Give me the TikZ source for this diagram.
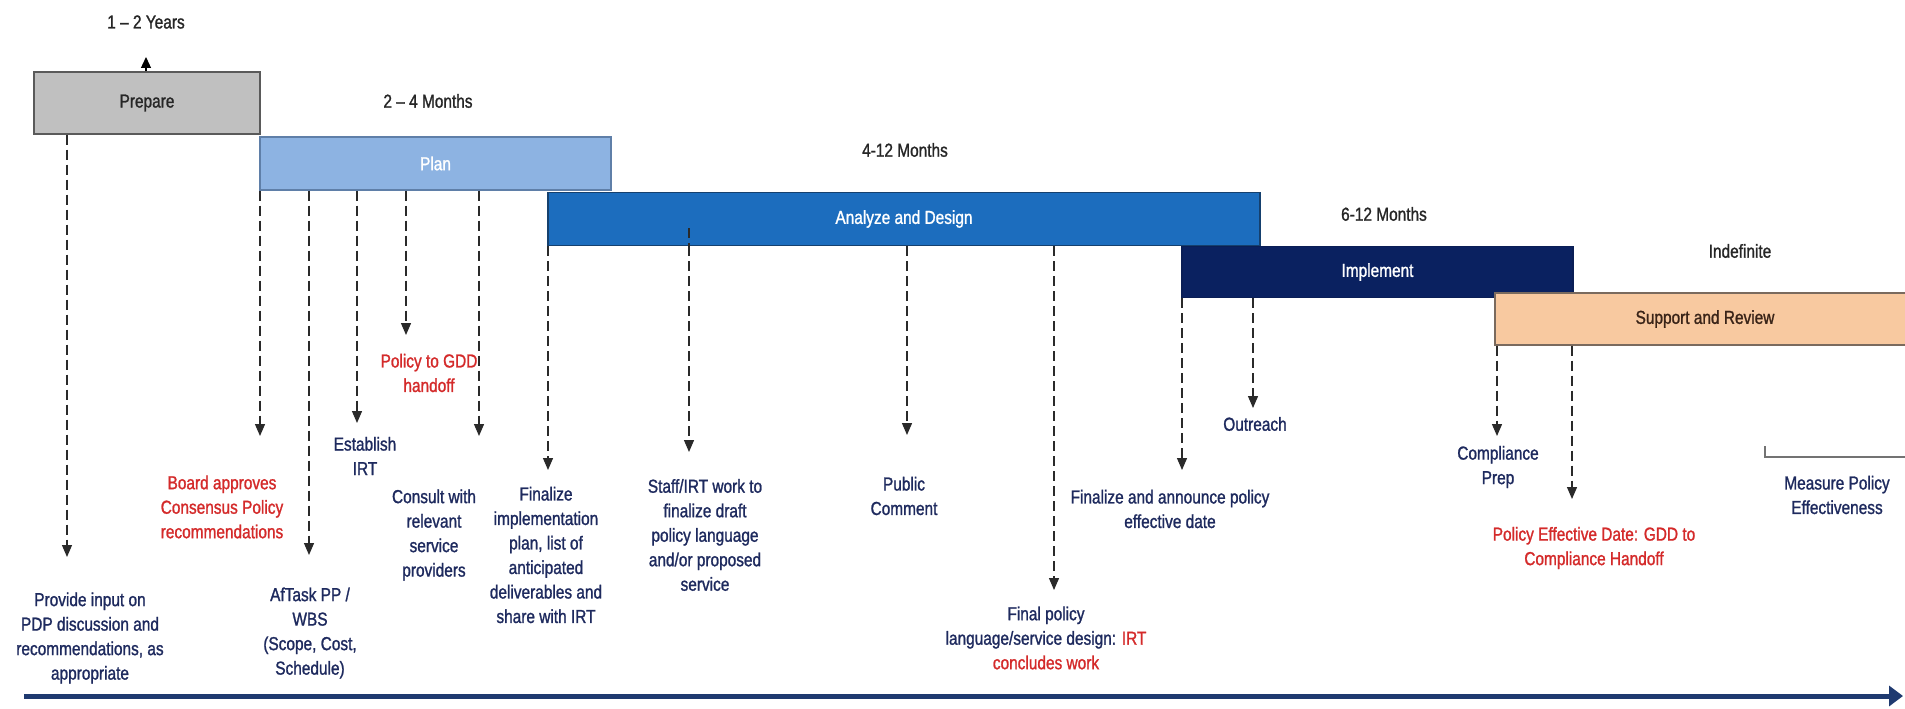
\documentclass[tikz,border=0pt]{standalone}
\usepackage{fontspec}
\setmainfont[FakeStretch=0.82,FakeBold=1.2]{Liberation Sans}
\usetikzlibrary{arrows.meta}
\definecolor{prepfill}{HTML}{C0C0C0}
\definecolor{prepdraw}{HTML}{5A5A5A}
\definecolor{planfill}{HTML}{8DB3E2}
\definecolor{plandraw}{HTML}{5F7FA8}
\definecolor{anlfill}{HTML}{1C6DBE}
\definecolor{anldraw}{HTML}{15406E}
\definecolor{implfill}{HTML}{0A2160}
\definecolor{implfill2}{HTML}{0A1E55}
\definecolor{supfill}{HTML}{F8C9A0}
\definecolor{supdraw}{HTML}{7A6A5E}
\definecolor{suptext}{HTML}{3A2418}
\definecolor{labnavy}{HTML}{1E2A5E}
\definecolor{labred}{HTML}{D42A2A}
\definecolor{axisnavy}{HTML}{1F3A70}
\definecolor{dashcol}{HTML}{2A2A2A}
\tikzset{
  phase/.style={draw, line width=1.4pt, inner sep=0pt, font=\fontsize{18.8}{22}\selectfont},
  dur/.style={font=\fontsize{18.8}{22}\selectfont, text=black!85},
  lab/.style={font=\fontsize{18.8}{24.5}\selectfont, align=center, text=labnavy, inner sep=1pt},
  redlab/.style={lab, text=labred},
  dasharrow/.style={draw=dashcol, line width=1.3pt, dash pattern=on 10pt off 5pt,
    -{Triangle[width=10pt,length=12pt]}},
  dashline/.style={draw=dashcol, line width=1.3pt, dash pattern=on 10pt off 5pt},
}
\begin{document}
\begin{tikzpicture}[x=1pt,y=-1pt]
\useasboundingbox[fill=white] (0,0) rectangle (1905,709);

% phase boxes
\node[phase, fill=prepfill, draw=prepdraw, minimum width=226pt, minimum height=62pt, text=black!85] (prep) at (147,103) {Prepare};
\node[phase, fill=planfill, draw=plandraw, minimum width=351pt, minimum height=53pt, text=white] (plan) at (435.5,163.5) {Plan};
\node[phase, fill=anlfill, draw=anldraw, minimum width=712pt, minimum height=53pt, text=white] (anl) at (904,219) {Analyze and Design};
\node[phase, fill=implfill, draw=implfill2, minimum width=391pt, minimum height=51pt, text=white] (impl) at (1377.5,272) {Implement};
\node[phase, fill=supfill, draw=supdraw, minimum width=420pt, minimum height=52pt, text=suptext] (sup) at (1705,319) {Support and Review};

% durations
\node[dur] (d1) at (146,22) {1 -- 2 Years};
\node[dur] (d2) at (428,101) {2 -- 4 Months};
\node[dur] (d3) at (905,150) {4-12 Months};
\node[dur] (d4) at (1384,214) {6-12 Months};
\node[dur] (d5) at (1740,251) {Indefinite};

\coordinate (up) at (146,57);
\draw[draw=black, line width=1.3pt, -{Triangle[width=10pt,length=11pt]}] (prep.north -| up) -- (up);

% labels
\node[lab] (l1) at (90,638) {Provide input on\\PDP discussion and\\recommendations, as\\appropriate};
\node[redlab] (l2) at (222,507) {Board approves\\Consensus Policy\\recommendations};
\node[lab] (l3) at (310,633) {AfTask PP /\\WBS\\(Scope, Cost,\\Schedule)};
\node[lab] (l4) at (365,456) {Establish\\IRT};
\node[redlab] (l5) at (429,373) {Policy to GDD\\handoff};
\node[lab] (l6) at (434,535) {Consult with\\relevant\\service\\providers};
\node[lab] (l7) at (546,555) {Finalize\\implementation\\plan, list of\\anticipated\\deliverables and\\share with IRT};
\node[lab] (l8) at (705,535) {Staff/IRT work to\\finalize draft\\policy language\\and/or proposed\\service};
\node[lab] (l9) at (904,496) {Public\\Comment};
\node[lab] (l10) at (1046,638) {Final policy\\language/service design: \textcolor{labred}{IRT}\\\textcolor{labred}{concludes work}};
\node[lab] (l11) at (1170,509) {Finalize and announce policy\\effective date};
\node[lab] (l12) at (1255,424) {Outreach};
\node[lab] (l13) at (1498,467) {Compliance\\Prep};
\node[redlab] (l14) at (1594,548) {Policy Effective Date: GDD to\\Compliance Handoff};
\node[lab] (l15) at (1837,495) {Measure Policy\\Effectiveness};

% arrow end points
\coordinate (e1) at (67,557);
\coordinate (e2) at (260,436);
\coordinate (e3) at (309,555);
\coordinate (e4) at (357,423);
\coordinate (e5) at (406,335);
\coordinate (e6) at (479,436);
\coordinate (e7) at (548,470);
\coordinate (e8) at (689,452);
\coordinate (e9) at (907,435);
\coordinate (e10) at (1054,590);
\coordinate (e11) at (1182,470);
\coordinate (e12) at (1253,408);
\coordinate (e13) at (1497,436);
\coordinate (e14) at (1572,499);
\coordinate (s8) at (689,228);

\draw[dasharrow] (prep.south -| e1) -- (e1);
\draw[dasharrow] (plan.south -| e2) -- (e2);
\draw[dasharrow] (plan.south -| e3) -- (e3);
\draw[dasharrow] (plan.south -| e4) -- (e4);
\draw[dasharrow] (plan.south -| e5) -- (e5);
\draw[dasharrow] (plan.south -| e6) -- (e6);
\draw[dasharrow] (anl.south -| e7) -- (e7);
\draw[dashline] (s8) -- (anl.south -| s8);
\draw[dasharrow] (anl.south -| e8) -- (e8);
\draw[dasharrow] (anl.south -| e9) -- (e9);
\draw[dasharrow] (anl.south -| e10) -- (e10);
\draw[dasharrow] (impl.south -| e11) -- (e11);
\draw[dasharrow] (impl.south -| e12) -- (e12);
\draw[dasharrow] (sup.south -| e13) -- (e13);
\draw[dasharrow] (sup.south -| e14) -- (e14);

% measure bracket
\coordinate (b1) at (1765,446);
\coordinate (b2) at (1765,457);
\coordinate (b3) at (1912,457);
\draw[draw=black!55, line width=1.6pt] (b1) -- (b2) -- (b3);

% time axis
\coordinate (ax0) at (24,696);
\coordinate (ax1) at (1903,696);
\draw[draw=axisnavy, line width=5pt, -{Triangle[width=20pt,length=14pt]}] (ax0) -- (ax1);
\end{tikzpicture}
\end{document}
